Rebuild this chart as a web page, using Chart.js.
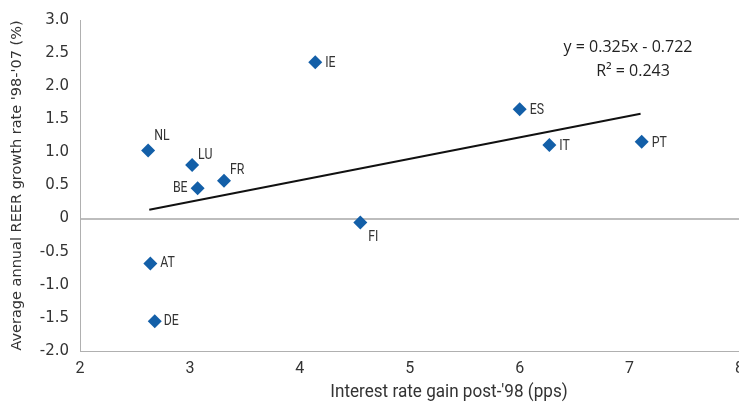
<!DOCTYPE html>
<html>
<head>
<meta charset="utf-8">
<script src="https://cdn.jsdelivr.net/npm/chart.js@4.4.1/dist/chart.umd.min.js"></script>
<style>
	html, body { margin: 0; padding: 0; background: #fff; overflow: hidden; }
	#wrap { width: 752px; height: 405px; }
</style>
</head>
<body>
<div id="wrap"><canvas id="myChart"></canvas></div>
<script>
// country codes, interest rate gain (x), REER growth (y)
var countries = ['NL', 'LU', 'BE', 'FR', 'IE', 'ES', 'IT', 'PT', 'FI', 'AT', 'DE'];
var rateGain = [2.62, 3.02, 3.07, 3.31, 4.14, 6.0, 6.27, 7.11, 4.55, 2.64, 2.68];
var reerGrowth = [1.03, 0.81, 0.46, 0.57, 2.36, 1.65, 1.11, 1.16, -0.06, -0.68, -1.55];
// linear trend line end points
var trendX = [2.63, 7.1];
var trendY = [0.133, 1.585];
var xTicks = [2, 3, 4, 5, 6, 7, 8];
var yTicks = [-2, -1.5, -1, -0.5, 0, 0.5, 1, 1.5, 2, 2.5, 3];

// where each label sits relative to its point
var labelPos = {
	NL: [6, -14, 'left'], LU: [6, -10, 'left'], BE: [-10, 0, 'right'], FR: [6, -11, 'left'],
	IE: [10, 1, 'left'], ES: [10, 1, 'left'], IT: [10, 1, 'left'], PT: [10, 1, 'left'],
	FI: [8, 15, 'left'], AT: [10, 0, 'left'], DE: [9, 0, 'left']
};

var points = [];
for (var i = 0; i < countries.length; i++) {
	points.push({ x: rateGain[i], y: reerGrowth[i] });
}
var trend = [];
for (var j = 0; j < trendX.length; j++) {
	trend.push({ x: trendX[j], y: trendY[j] });
}

// narrow text: squeeze horizontally
function narrowText(ctx, text, x, y, align, sx) {
	var w = ctx.measureText(text).width * sx;
	var left = align === 'right' ? x - w : (align === 'center' ? x - w / 2 : x);
	ctx.save();
	ctx.textAlign = 'left';
	ctx.translate(left, y);
	ctx.scale(sx, 1);
	ctx.fillText(text, 0, 0);
	ctx.restore();
}

var labelPlugin = {
	id: 'labels',
	afterDatasetsDraw: function(chart) {
		var ctx = chart.ctx;
		var meta = chart.getDatasetMeta(0);
		ctx.save();
		ctx.fillStyle = '#333';
		ctx.font = '15px Roboto, sans-serif';
		ctx.textBaseline = 'middle';
		meta.data.forEach(function(el, k) {
			var p = labelPos[countries[k]];
			narrowText(ctx, countries[k], el.x + p[0], el.y + p[1], p[2], 0.82);
		});
		// trend equation
		ctx.font = '16px "Open Sans", sans-serif';
		ctx.fillStyle = '#222';
		ctx.textAlign = 'center';
		ctx.fillText('y = 0.325x - 0.722', 628, 47);
		ctx.fillText('R² = 0.243', 633, 71);
		// x axis title
		ctx.font = '18px Roboto, sans-serif';
		ctx.fillStyle = '#333';
		narrowText(ctx, 'Interest rate gain post-\'98 (pps)', 449, 392, 'center', 0.95);
		ctx.restore();
	}
};

var ctx = document.getElementById('myChart').getContext('2d');
var chart = new Chart(ctx, {
	type: 'scatter',
	data: {
		datasets: [{
			label: 'Countries',
			data: points,
			pointStyle: 'rectRot',
			pointRadius: 7,
			pointHoverRadius: 7,
			backgroundColor: '#135fa8',
			borderColor: '#135fa8',
			borderWidth: 0
		}, {
			label: 'Trend',
			type: 'line',
			data: trend,
			borderColor: '#111',
			borderWidth: 2,
			pointRadius: 0,
			fill: false
		}]
	},
	plugins: [labelPlugin],
	options: {
		responsive: true,
		maintainAspectRatio: false,
		animation: false,
		layout: { padding: { top: 13, right: 0, left: 0, bottom: 0 } },
		plugins: {
			legend: { display: false },
			tooltip: { enabled: false }
		},
		scales: {
			x: {
				type: 'linear',
				min: 2,
				max: 8,
				afterBuildTicks: function(s) { s.ticks = xTicks.map(function(v) { return { value: v }; }); },
				afterFit: function(s) { s.height = 54; },
				grid: { display: false, drawTicks: false },
				border: { color: '#b0b0b0', width: 1 },
				ticks: {
					color: '#333',
					padding: 8,
					font: { family: 'Roboto', size: 16 },
					maxRotation: 0
				}
			},
			y: {
				min: -2,
				max: 3,
				afterBuildTicks: function(s) { s.ticks = yTicks.map(function(v) { return { value: v }; }); },
				afterFit: function(s) { s.width = 80; },
				grid: {
					drawTicks: false,
					color: function(c) { return c.tick && c.tick.value === 0 ? '#bdbdbd' : 'rgba(0,0,0,0)'; },
					lineWidth: 2
				},
				border: { color: '#b0b0b0', width: 1 },
				title: {
					display: true,
					text: 'Average annual REER growth rate \'98-\'07 (%)',
					color: '#333',
					font: { family: 'DejaVu Sans', size: 14.5 },
					padding: { top: 9, bottom: 0 }
				},
				ticks: {
					color: '#333',
					padding: 11,
					font: { family: 'DejaVu Sans', size: 15 },
					callback: function(v) { return v === 0 ? '0' : v.toFixed(1); }
				}
			}
		}
	}
});
</script>
</body>
</html>
